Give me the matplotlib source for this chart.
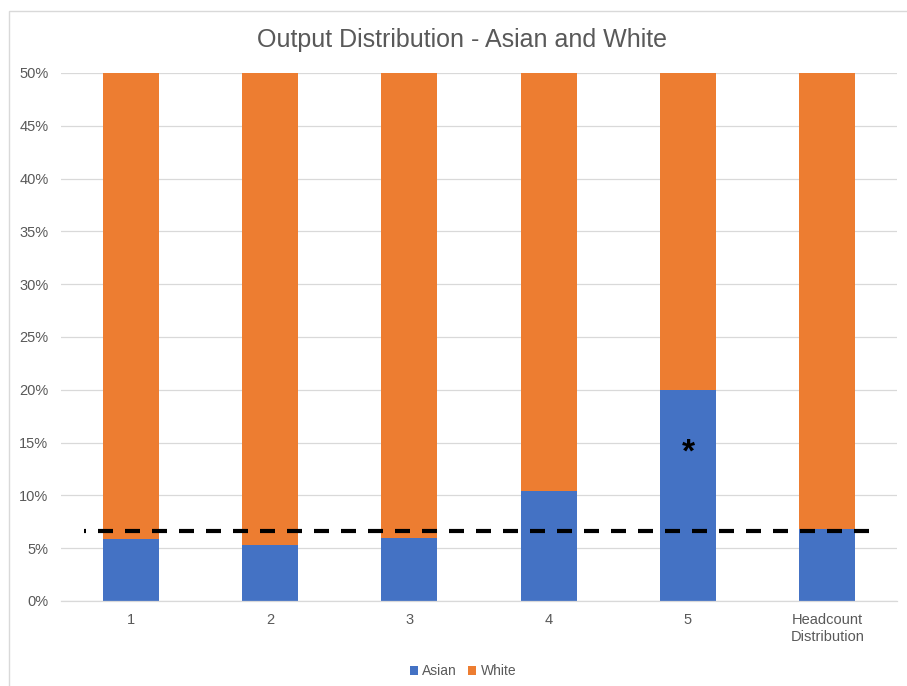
import matplotlib.pyplot as plt
from matplotlib.patches import Rectangle
from matplotlib.ticker import PercentFormatter
import numpy as np

plt.rcParams['font.family'] = ['Liberation Sans', 'DejaVu Sans']

groups = ['1', '2', '3', '4', '5', 'Headcount\nDistribution']
asian = [0.059, 0.053, 0.060, 0.104, 0.200, 0.068]
white = [0.941, 0.947, 0.940, 0.896, 0.800, 0.932]
headcount_line = 0.066

blue = '#4472C4'
orange = '#ED7D31'
grey_txt = '#595959'
grid_col = '#D9D9D9'

fig = plt.figure(figsize=(9.07, 6.86), dpi=100)
ax = fig.add_axes([61 / 907, 85 / 686, 836 / 907, 528 / 686])

x = np.arange(len(groups))
ax.bar(x, asian, width=0.4, color=blue, label='Asian', zorder=2)
ax.bar(x, white, width=0.4, bottom=asian, color=orange, label='White', zorder=2)

# dashed reference line (headcount share)
ax.plot([-0.335, 5.31], [headcount_line, headcount_line], color='black', lw=3,
        linestyle=(3.12, (3.6, 2.88)), zorder=3)

ax.text(4, 0.140, '*', fontsize=24, fontweight='bold', ha='center', va='center', zorder=4)

ax.set_xlim(-0.5, 5.5)
ax.set_ylim(0, 0.5)
ax.set_yticks(np.arange(0, 0.51, 0.05))
ax.yaxis.set_major_formatter(PercentFormatter(1.0, decimals=0))
ax.set_xticks(x)
ax.set_xticklabels(groups)
ax.tick_params(length=0, colors=grey_txt, labelsize=10.5)
ax.tick_params(axis='y', pad=9)
ax.tick_params(axis='x', pad=9)
ax.grid(axis='y', color=grid_col, lw=0.9, zorder=0)
ax.set_axisbelow(True)
for s in ['top', 'right', 'left']:
    ax.spines[s].set_visible(False)
ax.spines['bottom'].set_color(grid_col)
ax.spines['bottom'].set_linewidth(0.9)

fig.text(462 / 907, 1 - 40 / 686, 'Output Distribution - Asian and White', ha='center',
         va='center', fontsize=18, color=grey_txt)

fig.legend(loc='center', bbox_to_anchor=(463 / 907, 1 - 671 / 686), ncol=2, frameon=False,
           fontsize=10, labelcolor=grey_txt, handlelength=0.6, handleheight=0.6,
           handletextpad=0.3, columnspacing=0.8)

# chart area border
fig.patches.append(Rectangle((9 / 907, -0.1), 1.2, 1.1 - 11 / 686, transform=fig.transFigure,
                             fill=False, edgecolor='#D9D9D9', lw=1))

fig.savefig('out.png', dpi=100)
